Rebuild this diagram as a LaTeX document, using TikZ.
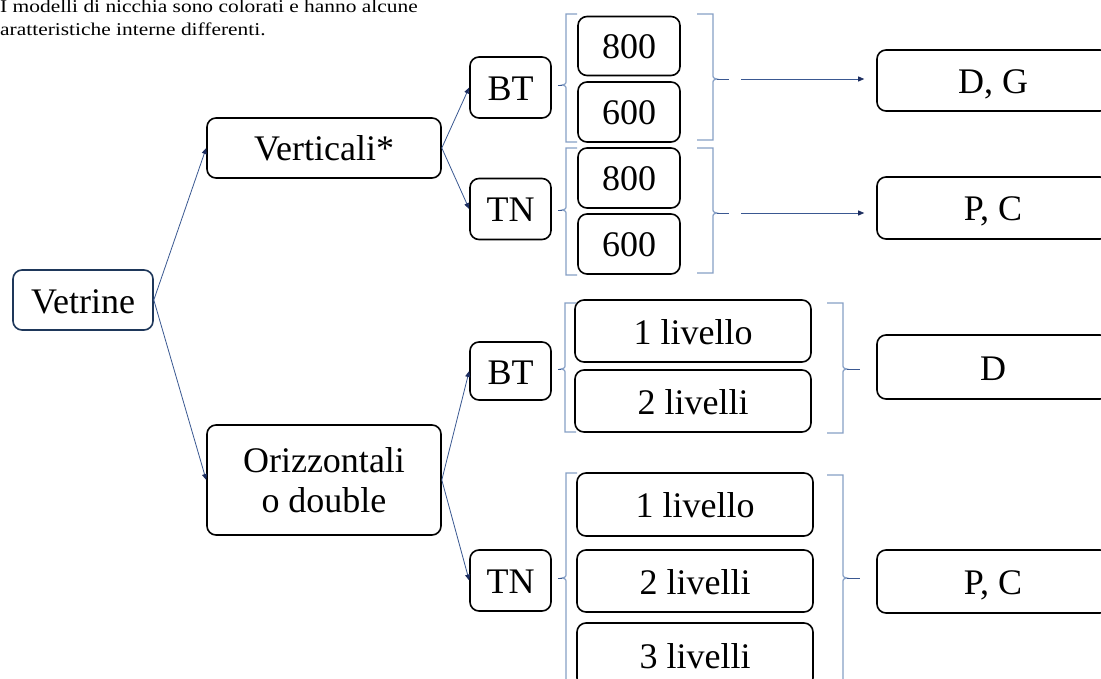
\documentclass[tikz,border=0pt]{standalone}
\usepackage{fontspec}
\usepackage{graphicx}
\setmainfont{Liberation Serif}
\usetikzlibrary{arrows.meta}
\definecolor{linkblue}{RGB}{58,88,145}
\definecolor{tipnavy}{RGB}{28,45,95}
\definecolor{bracketblue}{RGB}{135,160,198}
\definecolor{rootnavy}{RGB}{30,55,90}
\begin{document}
\begin{tikzpicture}[x=1pt,y=-1pt,
  box/.style={draw=black, line width=1.6pt, rounded corners=9pt, fill=white,
    font=\fontsize{36}{40}\selectfont, inner sep=0pt, align=center},
  oneline/.style={box, text height=28pt, text depth=2pt},
  small/.style={oneline, minimum width=81pt, minimum height=61pt},
  num/.style={oneline, minimum width=102pt, minimum height=60pt},
  lev/.style={oneline, minimum width=236pt, minimum height=62pt},
  result/.style={oneline, minimum width=232pt, minimum height=62pt},
  link/.style={draw=linkblue, line width=0.8pt,
    -{Triangle[length=6pt,width=5pt,color=tipnavy]}},
  tick/.style={draw=linkblue, line width=0.9pt},
  bracket/.style={draw=bracketblue, line width=1.2pt},
  note/.style={anchor=base west, inner sep=0pt, font=\fontsize{18}{22}\selectfont}
]
\clip (0,0) rectangle (1101,679);
\fill[white] (0,0) rectangle (1101,679);

% caption
\node[note] (cap1) at (0,13) {\scalebox{1.19}[1]{I modelli di nicchia sono colorati e hanno alcune}};
\node[note] (cap2) at (0,36) {\scalebox{1.19}[1]{aratteristiche interne differenti.}};

% tree
\node[oneline, draw=rootnavy, minimum width=140pt, minimum height=60pt] (vet) at (83,300) {Vetrine};
\node[oneline, minimum width=234pt, minimum height=60pt] (vert) at (324,148) {Verticali*};
\node[box, minimum width=234pt, minimum height=110pt] (oriz) at (324,480) {Orizzontali\\o double};

\node[small] (bt1) at (510.5,87.5) {BT};
\node[small] (tn1) at (510.5,209) {TN};
\node[small, minimum height=58pt] (bt2) at (510.5,371) {BT};
\node[small] (tn2) at (510.5,580.5) {TN};

\node[num, minimum height=59pt] (a800) at (629,46) {800};
\node[num] (a600) at (629,112) {600};
\node[num] (b800) at (629,178) {800};
\node[num] (b600) at (629,244) {600};

\node[lev] (c1) at (693,331) {1 livello};
\node[lev] (c2) at (693,401) {2 livelli};
\node[lev, minimum height=63pt] (d1) at (695,504.5) {1 livello};
\node[lev] (d2) at (695,581) {2 livelli};
\node[lev, minimum height=64pt] (d3) at (695,655) {3 livelli};

\node[result, minimum height=61pt] (rDG) at (993,80.5) {D, G};
\node[result] (rPC1) at (993,208) {P, C};
\node[result, minimum height=64pt] (rD) at (993,367) {D};
\node[result, minimum height=63pt] (rPC2) at (993,581.5) {P, C};

% branches
\draw[link] (vet.east) -- (vert.west);
\draw[link] (vet.east) -- (oriz.west);
\draw[link] (vert.east) -- (bt1.west);
\draw[link] (vert.east) -- (tn1.west);
\draw[link] (oriz.east) -- (bt2.west);
\draw[link] (oriz.east) -- (tn2.west);

% left brackets: x, top, bottom, tip
\foreach \n/\x/\t/\b/\m in {L1/566/14/142/85, L2/566/148/275/210, L3/565/303/432/369, L4/566/473/700/578}{
  \draw[bracket] (\x+11,\t) -- (\x,\t) -- (\x,\m-5)
    .. controls (\x,\m-1) .. (\x-4,\m)
    .. controls (\x,\m+1) .. (\x,\m+5) -- (\x,\b) -- (\x+11,\b);
  \coordinate (\n) at (\x-4,\m);
}
% right brackets: x, top, bottom, tip
\foreach \n/\x/\t/\b/\m in {R1/713/14/140/79, R2/713/148/273/213, R3/843/303/433/369, R4/843/475/700/578}{
  \draw[bracket] (\x-16,\t) -- (\x,\t) -- (\x,\m-5)
    .. controls (\x,\m-1) .. (\x+4,\m)
    .. controls (\x,\m+1) .. (\x,\m+5) -- (\x,\b) -- (\x-16,\b);
  \coordinate (\n) at (\x+4,\m);
}

% bracket ticks
\draw[tick, shorten <=6pt] (bt1.east |- L1) -- (L1);
\draw[tick, shorten <=6pt] (tn1.east |- L2) -- (L2);
\draw[tick, shorten <=6pt] (bt2.east |- L3) -- (L3);
\draw[tick, shorten <=6pt] (tn2.east |- L4) -- (L4);

\coordinate (R1a) at ([xshift=12pt]R1);
\coordinate (R1b) at ([xshift=24pt]R1);
\coordinate (R2a) at ([xshift=12pt]R2);
\coordinate (R2b) at ([xshift=24pt]R2);
\draw[tick] (R1) -- (R1a);
\draw[link, shorten >=12pt] (R1b) -- (rDG.west |- R1b);
\draw[tick] (R2) -- (R2a);
\draw[link, shorten >=12pt] (R2b) -- (rPC1.west |- R2b);
\draw[tick, shorten >=16pt] (R3) -- (rD.west |- R3);
\draw[tick, shorten >=16pt] (R4) -- (rPC2.west |- R4);
\end{tikzpicture}
\end{document}
